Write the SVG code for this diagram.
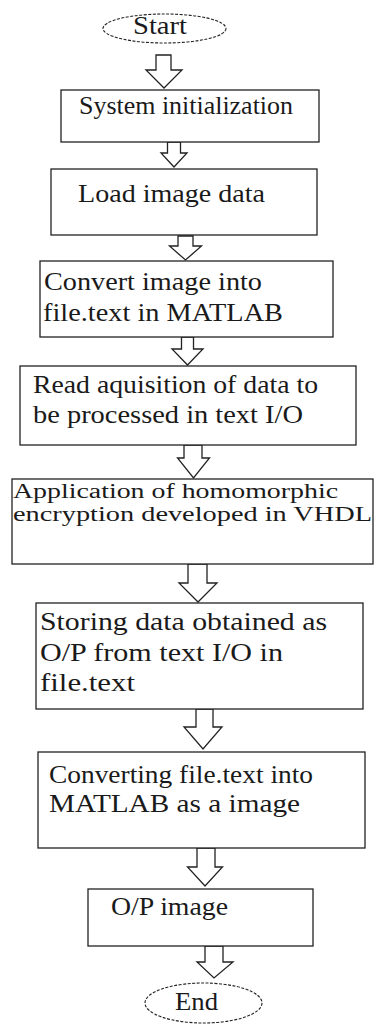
<svg xmlns="http://www.w3.org/2000/svg" width="374" height="1024" viewBox="0 0 374 1024">
  <style>
    .box { fill: #ffffff; stroke: #222222; stroke-width: 1.3; }
    .term { fill: #ffffff; stroke: #222222; stroke-width: 1.1; stroke-dasharray: 3 1.5; }
    .arrow { fill: #ffffff; stroke: #222222; stroke-width: 1.3; stroke-linejoin: miter; }
    text { font-family: "Liberation Serif", "Times New Roman", serif; font-size: 25px; fill: #1a1a1a; }
    .small { font-size: 20px; }
  </style>
  <rect width="374" height="1024" fill="#ffffff"/>

  <!-- block arrows between steps -->
  <g id="connectors">
    <path class="arrow" d="M156,55 H171 V70 H182 L164,88 L146,70 H156 Z"/>
    <path class="arrow" d="M167.5,142 H180.5 V153 H187 L174,167 L161,153 H167.5 Z"/>
    <path class="arrow" d="M178,236 H193 V246 H201.5 L185.5,260 L169.5,246 H178 Z"/>
    <path class="arrow" d="M181.5,337 H193.5 V349 H203 L187.5,365 L172,349 H181.5 Z"/>
    <path class="arrow" d="M184,445 H202 V458 H209.5 L193.5,478 L177.5,458 H184 Z"/>
    <path class="arrow" d="M188,564 H207 V583 H217 L198,602 L179,583 H188 Z"/>
    <path class="arrow" d="M196,709 H213 V727 H222 L203,749 L184,727 H196 Z"/>
    <path class="arrow" d="M197,848 H215 V867 H222.5 L205,886 L187.5,867 H197 Z"/>
    <path class="arrow" d="M205,946 H223 V962 H233 L214,978 L197,962 H205 Z"/>
  </g>

  <g id="start">
    <ellipse class="term" cx="164.5" cy="28.5" rx="61.5" ry="14.5"/>
    <text x="133" y="34" textLength="54" lengthAdjust="spacingAndGlyphs">Start</text>
  </g>

  <g id="init">
    <rect class="box" x="61" y="90" width="258" height="52"/>
    <text x="79" y="114" textLength="214" lengthAdjust="spacingAndGlyphs">System initialization</text>
  </g>

  <g id="load">
    <rect class="box" x="51" y="169" width="266" height="66"/>
    <text x="78" y="202" textLength="187" lengthAdjust="spacingAndGlyphs">Load image data</text>
  </g>

  <g id="convert">
    <rect class="box" x="40" y="261" width="293" height="76"/>
    <text x="44" y="290" textLength="218" lengthAdjust="spacingAndGlyphs">Convert image into</text>
    <text x="43" y="321" textLength="240" lengthAdjust="spacingAndGlyphs">file.text in MATLAB</text>
  </g>

  <g id="read">
    <rect class="box" x="20" y="366" width="336" height="79"/>
    <text x="33" y="393" textLength="285" lengthAdjust="spacingAndGlyphs">Read aquisition of data to</text>
    <text x="33" y="423" textLength="270" lengthAdjust="spacingAndGlyphs">be processed in text I/O</text>
  </g>

  <g id="encrypt">
    <rect class="box" x="12" y="479" width="361" height="85"/>
    <text class="small" x="13" y="498" textLength="325" lengthAdjust="spacingAndGlyphs">Application of homomorphic</text>
    <text class="small" x="13" y="521" textLength="359" lengthAdjust="spacingAndGlyphs">encryption developed in VHDL</text>
  </g>

  <g id="store">
    <rect class="box" x="36" y="603" width="327" height="106"/>
    <text x="40" y="630" textLength="287" lengthAdjust="spacingAndGlyphs">Storing data obtained as</text>
    <text x="40" y="661" textLength="243" lengthAdjust="spacingAndGlyphs">O/P from text I/O in</text>
    <text x="40" y="691" textLength="95" lengthAdjust="spacingAndGlyphs">file.text</text>
  </g>

  <g id="reconvert">
    <rect class="box" x="38" y="752" width="327" height="96"/>
    <text x="49" y="783" textLength="264" lengthAdjust="spacingAndGlyphs">Converting file.text into</text>
    <text x="49" y="812" textLength="251" lengthAdjust="spacingAndGlyphs">MATLAB as a image</text>
  </g>

  <g id="output">
    <rect class="box" x="88" y="889" width="225" height="57"/>
    <text x="111" y="915" textLength="117" lengthAdjust="spacingAndGlyphs">O/P image</text>
  </g>

  <g id="end">
    <ellipse class="term" cx="203.5" cy="1003" rx="58.5" ry="20"/>
    <text x="175" y="1010" textLength="43" lengthAdjust="spacingAndGlyphs">End</text>
  </g>
</svg>
